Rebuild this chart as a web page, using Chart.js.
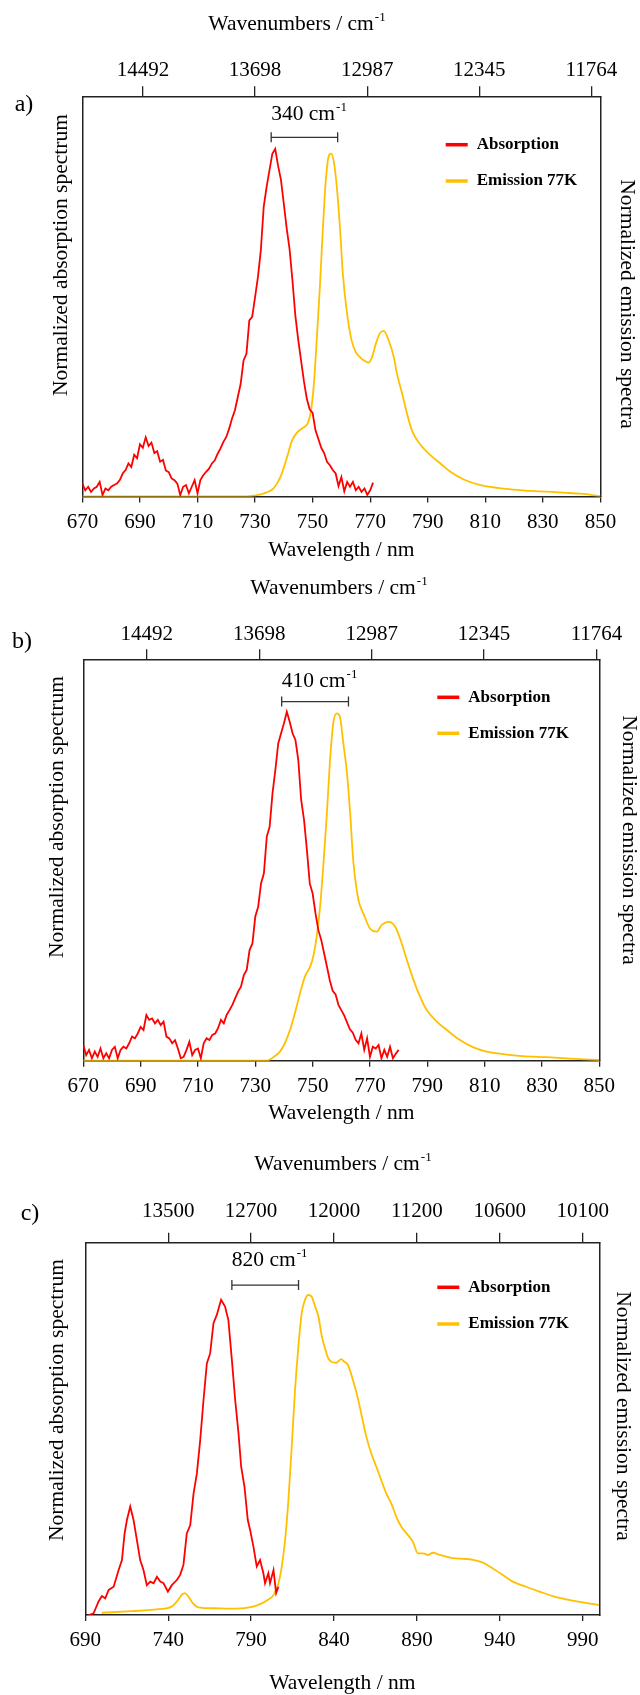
<!DOCTYPE html>
<html>
<head>
<meta charset="utf-8">
<script src="https://cdn.jsdelivr.net/npm/chart.js@4.4.1/dist/chart.umd.min.js"></script>
<style>
  html, body { margin: 0; padding: 0; background: #fff; }
  body { width: 640px; height: 1695px; position: relative; overflow: hidden; }
  .panel { position: absolute; left: 0; width: 640px; }
</style>
</head>
<body>
<div class="panel" style="top:0;height:565px"><canvas id="chartA"></canvas></div>
<div class="panel" style="top:565px;height:560px"><canvas id="chartB"></canvas></div>
<div class="panel" style="top:1125px;height:570px"><canvas id="chartC"></canvas></div>
<script>
// ---------- panel a ----------
var absAStart = 670; // nm, 1 nm step
var absA = [
  0.037, 0.018, 0.028, 0.013, 0.023, 0.028, 0.042, 0.004, 0.023, 0.018,
  0.028, 0.033, 0.037, 0.047, 0.066, 0.076, 0.095, 0.085, 0.12, 0.11,
  0.15, 0.14, 0.17, 0.145, 0.155, 0.125, 0.13, 0.1, 0.105, 0.075,
  0.07, 0.052, 0.047, 0.037, 0.004, 0.028, 0.033, 0.009, 0.028, 0.047,
  0.009, 0.047, 0.061, 0.071, 0.08, 0.095, 0.104, 0.123, 0.138, 0.157,
  0.171, 0.195, 0.224, 0.248, 0.286, 0.324, 0.391, 0.41, 0.506, 0.516,
  0.573, 0.631, 0.707, 0.832, 0.889, 0.937, 0.985, 0.999, 0.95, 0.91,
  0.84, 0.77, 0.71, 0.62, 0.52, 0.45, 0.39, 0.33, 0.28, 0.25,
  0.24, 0.19, 0.165, 0.14, 0.125, 0.1, 0.09, 0.076, 0.066, 0.03,
  0.056, 0.015, 0.042, 0.028, 0.042, 0.018, 0.028, 0.013, 0.023, 0.005,
  0.018, 0.04
];
var emisAX = [670, 700, 725, 729, 732, 734, 736, 737.6, 739, 741,
  742.8, 744.5, 746.5, 748.3, 749.5, 750.5, 751.5, 752.5, 753.5, 754.5,
  755.5, 756.4, 757.4, 758.4, 759.6, 760.5, 761.9, 763.5, 765, 766.5,
  768, 769.5, 770.6, 772, 773.3, 774.7, 776.4, 778.2, 779.3, 781.1,
  782.8, 784.5, 786.3, 788.6, 790.9, 794.4, 797.9, 802.5, 808.3, 814.1,
  819.9, 825.7, 831.5, 837.3, 843.1, 850];
var emisAY = [0, 0, 0, 0.002, 0.006, 0.012, 0.02, 0.037, 0.06, 0.11,
  0.16, 0.183, 0.197, 0.21, 0.25, 0.33, 0.46, 0.6, 0.76, 0.9,
  0.975, 0.985, 0.96, 0.89, 0.76, 0.64, 0.53, 0.45, 0.415, 0.4,
  0.39, 0.385, 0.4, 0.44, 0.468, 0.476, 0.449, 0.401, 0.353, 0.296,
  0.238, 0.19, 0.162, 0.138, 0.119, 0.095, 0.071, 0.049, 0.033, 0.025,
  0.02, 0.016, 0.014, 0.011, 0.008, 0.001];
var ticksA = [670, 690, 710, 730, 750, 770, 790, 810, 830, 850];
var topTickNmA = [690, 730, 770, 810, 850];
var topLabelsA = ['14492', '13698', '12987', '12345', '11764'];
var gapA = [735.6, 758.7];

// ---------- panel b ----------
var absBStart = 670;
var absB = [
  0.045, 0.016, 0.031, 0.007, 0.026, 0.011, 0.035, 0.007, 0.021, 0.007,
  0.031, 0.04, 0.007, 0.031, 0.04, 0.035, 0.05, 0.069, 0.064, 0.078,
  0.097, 0.088, 0.131, 0.117, 0.121, 0.107, 0.117, 0.102, 0.112, 0.069,
  0.064, 0.05, 0.059, 0.035, 0.007, 0.011, 0.031, 0.054, 0.016, 0.031,
  0.035, 0.007, 0.05, 0.064, 0.059, 0.074, 0.078, 0.093, 0.117, 0.107,
  0.131, 0.145, 0.16, 0.179, 0.198, 0.212, 0.245, 0.26, 0.317, 0.336,
  0.413, 0.441, 0.508, 0.537, 0.642, 0.67, 0.766, 0.833, 0.909, 0.938,
  0.967, 1.0, 0.971, 0.938, 0.919, 0.861, 0.747, 0.69, 0.604, 0.508,
  0.479, 0.422, 0.374, 0.346, 0.308, 0.269, 0.23, 0.2, 0.19, 0.16,
  0.145, 0.13, 0.11, 0.09, 0.08, 0.06, 0.05, 0.078, 0.031, 0.064,
  0.011, 0.04, 0.035, 0.045, 0.007, 0.031, 0.011, 0.04, 0.007, 0.02, 0.031
];
var emisBX = [670, 734, 736.3, 738.6, 740.3, 742.1, 743.8, 745.6, 747.3, 749.1,
  750.2, 751.4, 752.6, 753.7, 754.9, 756, 757.2, 758.4, 759.5, 760.7,
  761.9, 763, 764.2, 766, 767.7, 770, 772.4, 774.1, 776.5, 778.8,
  780.5, 782.9, 785.2, 787.5, 789.8, 793.3, 796.8, 801.4, 806.1, 810.7,
  816.5, 823.4, 831.6, 839.7, 850];
var emisBY = [0, 0, 0.01, 0.026, 0.05, 0.088, 0.136, 0.193, 0.241, 0.269,
  0.298, 0.355, 0.441, 0.556, 0.699, 0.852, 0.967, 0.995, 0.986, 0.91,
  0.83, 0.72, 0.57, 0.46, 0.422, 0.379, 0.37, 0.389, 0.398, 0.384,
  0.35, 0.288, 0.231, 0.183, 0.145, 0.112, 0.088, 0.059, 0.038, 0.026,
  0.019, 0.013, 0.01, 0.006, 0.002];
var ticksB = [670, 690, 710, 730, 750, 770, 790, 810, 830, 850];
var topTickNmB = [690, 730, 770, 810, 850];
var topLabelsB = ['14492', '13698', '12987', '12345', '11764'];
var gapB = [739.2, 762.5];

// ---------- panel c ----------
var absCX = [692, 695, 698, 700, 702, 704.1, 707.1, 710.1, 712.1, 713.7,
  715.1, 717.1, 719.1, 721.1, 723.1, 725.1, 727.1, 729.2, 731.2, 733.2,
  735.2, 737.2, 739.8, 742.2, 745.2, 747.2, 749.2, 751.2, 753.3, 755.3,
  757.3, 759.3, 761.3, 763.3, 765.3, 767.3, 769.3, 771.9, 774.3, 776.3,
  778.4, 780.4, 782.4, 784, 786, 788, 789.4, 791.4, 793.4, 795.4,
  797.4, 798.4, 800.4, 801.4, 803.5, 805.1, 806.5];
var absCY = [0, 0.005, 0.042, 0.059, 0.052, 0.078, 0.088, 0.14, 0.171, 0.254,
  0.296, 0.338, 0.296, 0.234, 0.171, 0.14, 0.093, 0.104, 0.099, 0.119,
  0.104, 0.099, 0.073, 0.093, 0.109, 0.125, 0.156, 0.254, 0.28, 0.379,
  0.441, 0.545, 0.67, 0.784, 0.815, 0.909, 0.935, 0.982, 0.961, 0.919,
  0.795, 0.67, 0.566, 0.462, 0.4, 0.296, 0.265, 0.213, 0.151, 0.171,
  0.13, 0.099, 0.13, 0.099, 0.14, 0.068, 0.088];
var emisCX = [700, 718, 734, 742, 746, 748, 750, 752, 755, 758,
  768, 778, 788, 794, 800, 803.5, 806.5, 808.5, 810.5, 812.5,
  814.5, 816.5, 818.5, 820.5, 822.5, 824.5, 826.5, 828.6, 830.6, 832.6,
  834.6, 836.5, 838.4, 841.4, 844.4, 846, 848.4, 851.4, 854.4, 856.4,
  859.5, 862.5, 865.5, 868.5, 871.5, 874.5, 877.6, 880.6, 884.6, 887.6,
  890.6, 893.6, 896.7, 899.7, 903.7, 907.7, 911.7, 917.7, 923.8, 929.8,
  935.8, 941.8, 947.8, 955.8, 963.9, 971.9, 979.9, 989.9, 1000];
var emisCY = [0.007, 0.012, 0.018, 0.026, 0.047, 0.062, 0.068, 0.059, 0.036, 0.024,
  0.021, 0.02, 0.023, 0.031, 0.047, 0.062, 0.099, 0.151, 0.234, 0.358,
  0.525, 0.701, 0.836, 0.94, 0.982, 0.997, 0.992, 0.961, 0.93, 0.87,
  0.83, 0.8, 0.789, 0.786, 0.797, 0.79, 0.779, 0.732, 0.675, 0.628,
  0.555, 0.503, 0.462, 0.42, 0.379, 0.348, 0.306, 0.275, 0.249, 0.228,
  0.192, 0.192, 0.187, 0.194, 0.187, 0.182, 0.177, 0.175, 0.172, 0.163,
  0.145, 0.125, 0.104, 0.088, 0.073, 0.059, 0.049, 0.039, 0.031];
var ticksC = [690, 740, 790, 840, 890, 940, 990];
var topTickNmC = [740, 790, 840, 890, 940, 990];
var topLabelsC = ['13500', '12700', '12000', '11200', '10600', '10100'];
var gapC = [778.4, 818.6];

var FONT = "'Liberation Serif', 'Times New Roman', serif";
var leftTitleText = 'Normalized absorption spectrum';
var rightTitleText = 'Normalized emission spectra';
Chart.defaults.font.family = FONT;
Chart.defaults.color = '#000';

function stepPoints(start, ys) {
  return ys.map(function (y, i) { return { x: start + i, y: y }; });
}
function toPoints(xs, ys) {
  return xs.map(function (x, i) { return { x: x, y: ys[i] }; });
}

// text with a small raised "-1"
function supText(ctx, base, sup, x, y, size, align) {
  ctx.font = size + 'px ' + FONT;
  var w1 = ctx.measureText(base).width;
  ctx.font = Math.round(size * 0.62) + 'px ' + FONT;
  var w2 = ctx.measureText(sup).width;
  var x0 = align === 'center' ? x - (w1 + w2 + 1) / 2 : x;
  ctx.textAlign = 'left';
  ctx.textBaseline = 'middle';
  ctx.font = size + 'px ' + FONT;
  ctx.fillText(base, x0, y);
  ctx.font = Math.round(size * 0.62) + 'px ' + FONT;
  ctx.fillText(sup, x0 + w1 + 1, y - size * 0.32);
}

function rotatedText(ctx, text, x, y, angle) {
  ctx.save();
  ctx.translate(x, y);
  ctx.rotate(angle);
  ctx.font = '21.5px ' + FONT;
  ctx.textAlign = 'center';
  ctx.textBaseline = 'middle';
  ctx.fillText(text, 0, 0);
  ctx.restore();
}

var panelPlugin = {
  id: 'panel',
  afterDraw: function (chart, args, opts) {
    var ctx = chart.ctx;
    var area = chart.chartArea;
    var xs = chart.scales.x, ys = chart.scales.y;
    ctx.save();
    ctx.fillStyle = '#000';

    // panel letter
    ctx.font = '24px ' + FONT;
    ctx.textAlign = 'center';
    ctx.textBaseline = 'middle';
    ctx.fillText(opts.letter, opts.letterX, opts.letterY);

    // axis titles that sit off-centre in the original
    supText(ctx, 'Wavenumbers / cm', '-1', opts.titleX, opts.titleY, 21.5, 'center');
    rotatedText(ctx, leftTitleText, opts.leftTitle[0], opts.leftTitle[1], -Math.PI / 2);
    rotatedText(ctx, rightTitleText, opts.rightTitle[0], opts.rightTitle[1], Math.PI / 2);

    // Stokes shift bracket
    var x1 = xs.getPixelForValue(opts.gap[0]);
    var x2 = xs.getPixelForValue(opts.gap[1]);
    var yb = ys.getPixelForValue(opts.gapY);
    ctx.strokeStyle = '#333';
    ctx.lineWidth = 1.3;
    ctx.beginPath();
    ctx.moveTo(x1, yb); ctx.lineTo(x2, yb);
    ctx.moveTo(x1, yb - 5); ctx.lineTo(x1, yb + 5);
    ctx.moveTo(x2, yb - 5); ctx.lineTo(x2, yb + 5);
    ctx.stroke();
    supText(ctx, opts.gapLabel, '-1', x1, yb - opts.gapLabelDy, 21.5, 'left');

    // legend inside the plot
    chart.data.datasets.forEach(function (ds, i) {
      var y = area.top + opts.legendTop + i * opts.legendGap;
      var x = area.right - opts.legendRight;
      ctx.strokeStyle = ds.borderColor;
      ctx.lineWidth = 3.5;
      ctx.beginPath();
      ctx.moveTo(x, y); ctx.lineTo(x + 22, y);
      ctx.stroke();
      ctx.font = 'bold 17px ' + FONT;
      ctx.textAlign = 'left';
      ctx.textBaseline = 'middle';
      ctx.fillText(ds.label, x + 31, y);
    });
    ctx.restore();
  }
};

function buildChart(id, p) {
  var ctx = document.getElementById(id).getContext('2d');
  return new Chart(ctx, {
    type: 'line',
    data: {
      datasets: [{
        label: 'Absorption',
        data: p.abs,
        borderColor: '#ff0000',
        borderWidth: 1.8,
        pointRadius: 0,
        tension: 0,
        yAxisID: 'y'
      }, {
        label: 'Emission 77K',
        data: p.emis,
        borderColor: '#ffc000',
        borderWidth: 1.8,
        pointRadius: 0,
        cubicInterpolationMode: 'monotone',
        yAxisID: 'y2'
      }]
    },
    options: {
      responsive: true,
      maintainAspectRatio: false,
      animation: false,
      layout: { padding: 0 },
      plugins: {
        legend: { display: false },
        tooltip: { enabled: false },
        panel: p.panel
      },
      scales: {
        x: {
          type: 'linear', position: 'bottom', min: p.xMin, max: p.xMax,
          afterBuildTicks: function (s) { s.ticks = p.ticks.map(function (v) { return { value: v }; }); },
          afterFit: function (s) { s.height = p.box.bottom; },
          ticks: { font: { size: 21 }, padding: 7, maxRotation: 0, autoSkip: false, color: '#000' },
          grid: { drawOnChartArea: false, tickLength: 6, color: '#222', lineWidth: 1.3 },
          border: { color: '#222', width: 1.5 },
          title: { display: true, text: 'Wavelength / nm', font: { size: 21.5 }, color: '#000',
                   padding: { top: 0, bottom: p.pad.bottomTitle } }
        },
        x2: {
          type: 'linear', position: 'top', min: p.topMin, max: p.topMax,
          afterBuildTicks: function (s) { s.ticks = p.topTicks.map(function (v) { return { value: v }; }); },
          afterFit: function (s) { s.height = p.box.top; },
          ticks: {
            font: { size: 21 }, padding: p.pad.tickTop, maxRotation: 0, autoSkip: false, color: '#000',
            callback: function (value, index) { return p.topLabels[index]; }
          },
          grid: { drawOnChartArea: false, tickLength: 10, color: '#222', lineWidth: 1.3 },
          border: { color: '#222', width: 1.5 }
        },
        y: {
          type: 'linear', position: 'left', min: 0, max: p.yMax,
          afterFit: function (s) { s.width = p.box.left; },
          ticks: { display: false },
          grid: { display: false },
          border: { color: '#222', width: 1.5 }
        },
        y2: {
          type: 'linear', position: 'right', min: 0, max: p.yMax,
          afterFit: function (s) { s.width = p.box.right; },
          ticks: { display: false },
          grid: { display: false },
          border: { color: '#222', width: 1.5 }
        }
      }
    },
    plugins: [panelPlugin]
  });
}

var chartA = buildChart('chartA', {
  abs: stepPoints(absAStart, absA),
  emis: toPoints(emisAX, emisAY),
  xMin: 670, xMax: 850, ticks: ticksA,
  topMin: 668.4, topMax: 853.2, topTicks: topTickNmA, topLabels: topLabelsA,
  yMax: 1.15,
  box: { left: 82.4, right: 39.6, top: 96.3, bottom: 68.5 },
  pad: { bottomTitle: 2, tickTop: 3 },
  panel: { letter: 'a)', letterX: 24, letterY: 105, titleX: 297, titleY: 24.5,
           leftTitle: [61.7, 255], rightTitle: [626.3, 304],
           gap: gapA, gapY: 1.032, gapLabel: '340 cm', gapLabelDy: 23,
           legendRight: 154.7, legendTop: 48.4, legendGap: 36.3 }
});

var chartB = buildChart('chartB', {
  abs: stepPoints(absBStart, absB),
  emis: toPoints(emisBX, emisBY),
  xMin: 670, xMax: 850, ticks: ticksB,
  topMin: 667.4, topMax: 851.0, topTicks: topTickNmB, topLabels: topLabelsB,
  yMax: 1.15,
  box: { left: 83.3, right: 40.7, top: 94.3, bottom: 64.3 },
  pad: { bottomTitle: -1, tickTop: 2 },
  panel: { letter: 'b)', letterX: 22, letterY: 77, titleX: 339, titleY: 23.6,
           leftTitle: [57, 252], rightTitle: [629, 275],
           gap: gapB, gapY: 1.029, gapLabel: '410 cm', gapLabelDy: 20,
           legendRight: 162, legendTop: 38, legendGap: 36 }
});

var chartC = buildChart('chartC', {
  abs: toPoints(absCX, absCY),
  emis: toPoints(emisCX, emisCY),
  xMin: 690, xMax: 1000, ticks: ticksC,
  topMin: 690, topMax: 1000, topTicks: topTickNmC, topLabels: topLabelsC,
  yMax: 1.16,
  box: { left: 85.3, right: 40.7, top: 117.7, bottom: 80 },
  pad: { bottomTitle: -1, tickTop: 8.4 },
  panel: { letter: 'c)', letterX: 30, letterY: 89, titleX: 343, titleY: 39,
           leftTitle: [57, 275], rightTitle: [623, 291],
           gap: gapC, gapY: 1.028, gapLabel: '820 cm', gapLabelDy: 25,
           legendRight: 162, legendTop: 44.6, legendGap: 36.7 }
});
</script>
</body>
</html>
